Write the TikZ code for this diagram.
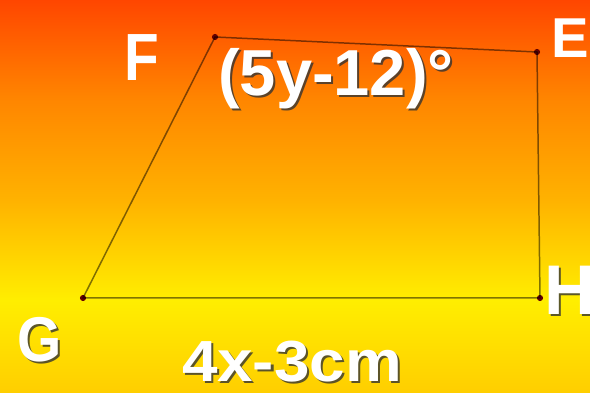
\documentclass[tikz,border=0pt]{standalone}
\usepackage{fontspec}
\setmainfont{Liberation Sans}
\usepackage{xcolor}
\usetikzlibrary{positioning}

\definecolor{bgbot}{HTML}{FFCE00}
\definecolor{bgyel}{HTML}{FFEE00}
\definecolor{bgmid}{HTML}{FFB200}
\definecolor{bgorg}{HTML}{FF8600}
\definecolor{bgtop}{HTML}{FF4600}
\pgfdeclareverticalshading{heat}{100bp}{
  color(0bp)=(bgbot); color(25bp)=(bgbot); color(36.8bp)=(bgyel);
  color(49.6bp)=(bgmid); color(62.3bp)=(bgorg); color(75bp)=(bgtop);
  color(100bp)=(bgtop)}

\begin{document}
\begin{tikzpicture}[
  lbl/.style={text=white, font=\bfseries, inner sep=0pt},
  shd/.style={text=black!80, font=\bfseries, inner sep=0pt, opacity=0.8},
  side/.style={draw=black, draw opacity=0.5, line width=0.85pt},
  vtx/.style={circle, fill=red!40!black, inner sep=0pt, minimum size=3.5pt}
]

% background
\useasboundingbox (0,0) rectangle (11.8,7.86);
\shade[shading=heat] (0,0) rectangle (11.8,7.86);

% corners
\node[vtx] (F) at (4.30,7.12) {};
\node[vtx] (E) at (10.74,6.82) {};
\node[vtx] (H) at (10.80,1.90) {};
\node[vtx] (G) at (1.66,1.90) {};

\draw[side] (F.center) -- (E.center) -- (H.center) -- (G.center) -- cycle;

% labels
\node[lbl, font=\fontsize{38}{40}\bfseries, xscale=0.85] (labF) at (2.84,6.70) {F};
\node[lbl, font=\fontsize{32}{34}\bfseries] (labE) at (11.40,7.10) {E};

\node[shd, font=\fontsize{40}{42}\bfseries] at (11.44,2.02) {H};
\node[lbl, font=\fontsize{40}{42}\bfseries] (labH) at (11.40,2.06) {H};

\node[shd, font=\fontsize{36}{38}\bfseries, xscale=0.9] at (0.84,1.02) {G};
\node[lbl, font=\fontsize{36}{38}\bfseries, xscale=0.9] (labG) at (0.80,1.06) {G};

\node[shd, font=\fontsize{37}{39}\bfseries] at (6.76,6.24) {(5y-12)°};
\node[lbl, font=\fontsize{37}{39}\bfseries] (angle) at (6.72,6.28) {(5y-12)°};

\node[shd, font=\fontsize{33}{35}\bfseries, xscale=1.1] at (5.88,0.58) {4x-3cm};
\node[lbl, font=\fontsize{33}{35}\bfseries, xscale=1.1] (base) at (5.84,0.62) {4x-3cm};

\end{tikzpicture}
\end{document}
